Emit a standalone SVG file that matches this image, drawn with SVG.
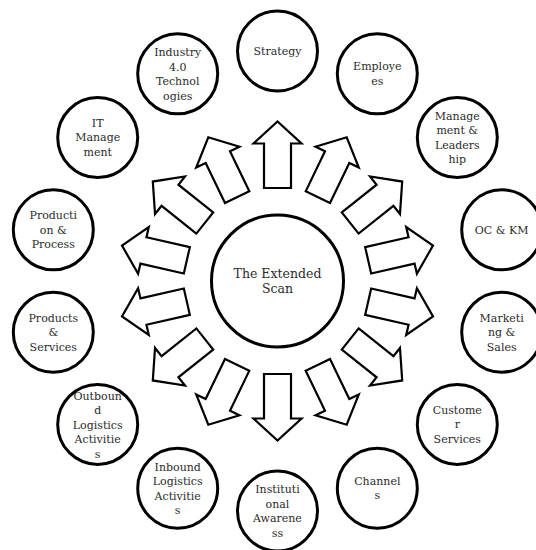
<svg xmlns="http://www.w3.org/2000/svg" xmlns:xlink="http://www.w3.org/1999/xlink" width="536" height="550" viewBox="0 0 536 550">
<style>
.node circle{fill:#fff;stroke:#000;stroke-width:3}
.node text{font-family:"DejaVu Serif","Liberation Serif",serif;font-size:11px;fill:#2b2b2b;text-anchor:middle;dominant-baseline:central}
#center text{font-size:12.5px}
.arrow{fill:#fff;stroke:#000;stroke-width:2.2;stroke-linejoin:miter}
</style>
<defs>
<polygon id="arr" points="370.5,267.5 415,267.5 415,257 437,281 415,305 415,294.5 370.5,294.5"/>
</defs>
<rect width="536" height="550" fill="#fff"/>
<g id="connectors">
<use xlink:href="#arr" class="arrow" transform="rotate(-90 277.5 281)"/>
<use xlink:href="#arr" class="arrow" transform="rotate(-64.286 277.5 281)"/>
<use xlink:href="#arr" class="arrow" transform="rotate(-38.571 277.5 281)"/>
<use xlink:href="#arr" class="arrow" transform="rotate(-12.857 277.5 281)"/>
<use xlink:href="#arr" class="arrow" transform="rotate(12.857 277.5 281)"/>
<use xlink:href="#arr" class="arrow" transform="rotate(38.571 277.5 281)"/>
<use xlink:href="#arr" class="arrow" transform="rotate(64.286 277.5 281)"/>
<use xlink:href="#arr" class="arrow" transform="rotate(90 277.5 281)"/>
<use xlink:href="#arr" class="arrow" transform="rotate(115.714 277.5 281)"/>
<use xlink:href="#arr" class="arrow" transform="rotate(141.429 277.5 281)"/>
<use xlink:href="#arr" class="arrow" transform="rotate(167.143 277.5 281)"/>
<use xlink:href="#arr" class="arrow" transform="rotate(192.857 277.5 281)"/>
<use xlink:href="#arr" class="arrow" transform="rotate(218.571 277.5 281)"/>
<use xlink:href="#arr" class="arrow" transform="rotate(244.286 277.5 281)"/>
</g>
<g id="center" class="node">
<circle cx="277.5" cy="281" r="66"/>
<text x="277.5" y="273.5">The Extended</text>
<text x="277.5" y="288.5">Scan</text>
</g>
<g id="strategy" class="node">
<circle cx="277.5" cy="51" r="40"/>
<text x="277.5" y="51.5">Strategy</text>
</g>
<g id="employees" class="node">
<circle cx="377.3" cy="73.8" r="40"/>
<text x="377.3" y="66.8">Employe</text>
<text x="377.3" y="81.3">es</text>
</g>
<g id="management" class="node">
<circle cx="457.3" cy="137.6" r="40"/>
<text x="457.3" y="116.4">Manage</text>
<text x="457.3" y="130.9">ment &amp;</text>
<text x="457.3" y="145.4">Leaders</text>
<text x="457.3" y="159.9">hip</text>
</g>
<g id="ockm" class="node">
<circle cx="501.7" cy="229.8" r="40"/>
<text x="501.7" y="230">OC &amp; KM</text>
</g>
<g id="marketing" class="node">
<circle cx="501.7" cy="332.2" r="40"/>
<text x="501.7" y="318">Marketi</text>
<text x="501.7" y="332.5">ng &amp;</text>
<text x="501.7" y="347">Sales</text>
</g>
<g id="customer" class="node">
<circle cx="457.3" cy="424.4" r="40"/>
<text x="457.3" y="410.2">Custome</text>
<text x="457.3" y="424.7">r</text>
<text x="457.3" y="439.2">Services</text>
</g>
<g id="channels" class="node">
<circle cx="377.3" cy="488.2" r="40"/>
<text x="377.3" y="481.2">Channel</text>
<text x="377.3" y="495.7">s</text>
</g>
<g id="institutional" class="node">
<circle cx="277.5" cy="511" r="40"/>
<text x="277.5" y="489.5">Instituti</text>
<text x="277.5" y="504">onal</text>
<text x="277.5" y="518.5">Awarene</text>
<text x="277.5" y="533">ss</text>
</g>
<g id="inbound" class="node">
<circle cx="177.7" cy="488.2" r="40"/>
<text x="177.7" y="467">Inbound</text>
<text x="177.7" y="481.5">Logistics</text>
<text x="177.7" y="496">Activitie</text>
<text x="177.7" y="510.5">s</text>
</g>
<g id="outbound" class="node">
<circle cx="97.7" cy="424.4" r="40"/>
<text x="97.7" y="396.2">Outboun</text>
<text x="97.7" y="410.7">d</text>
<text x="97.7" y="425.2">Logistics</text>
<text x="97.7" y="439.7">Activitie</text>
<text x="97.7" y="454.2">s</text>
</g>
<g id="products" class="node">
<circle cx="53.3" cy="332.2" r="40"/>
<text x="53.3" y="318">Products</text>
<text x="53.3" y="332.5">&amp;</text>
<text x="53.3" y="347">Services</text>
</g>
<g id="production" class="node">
<circle cx="53.3" cy="229.8" r="40"/>
<text x="53.3" y="215.6">Producti</text>
<text x="53.3" y="230.1">on &amp;</text>
<text x="53.3" y="244.6">Process</text>
</g>
<g id="itmanagement" class="node">
<circle cx="97.7" cy="137.6" r="40"/>
<text x="97.7" y="123.4">IT</text>
<text x="97.7" y="137.9">Manage</text>
<text x="97.7" y="152.4">ment</text>
</g>
<g id="industry" class="node">
<circle cx="177.7" cy="73.8" r="40"/>
<text x="177.7" y="52.6">Industry</text>
<text x="177.7" y="67.1">4.0</text>
<text x="177.7" y="81.6">Technol</text>
<text x="177.7" y="96.1">ogies</text>
</g>
</svg>
